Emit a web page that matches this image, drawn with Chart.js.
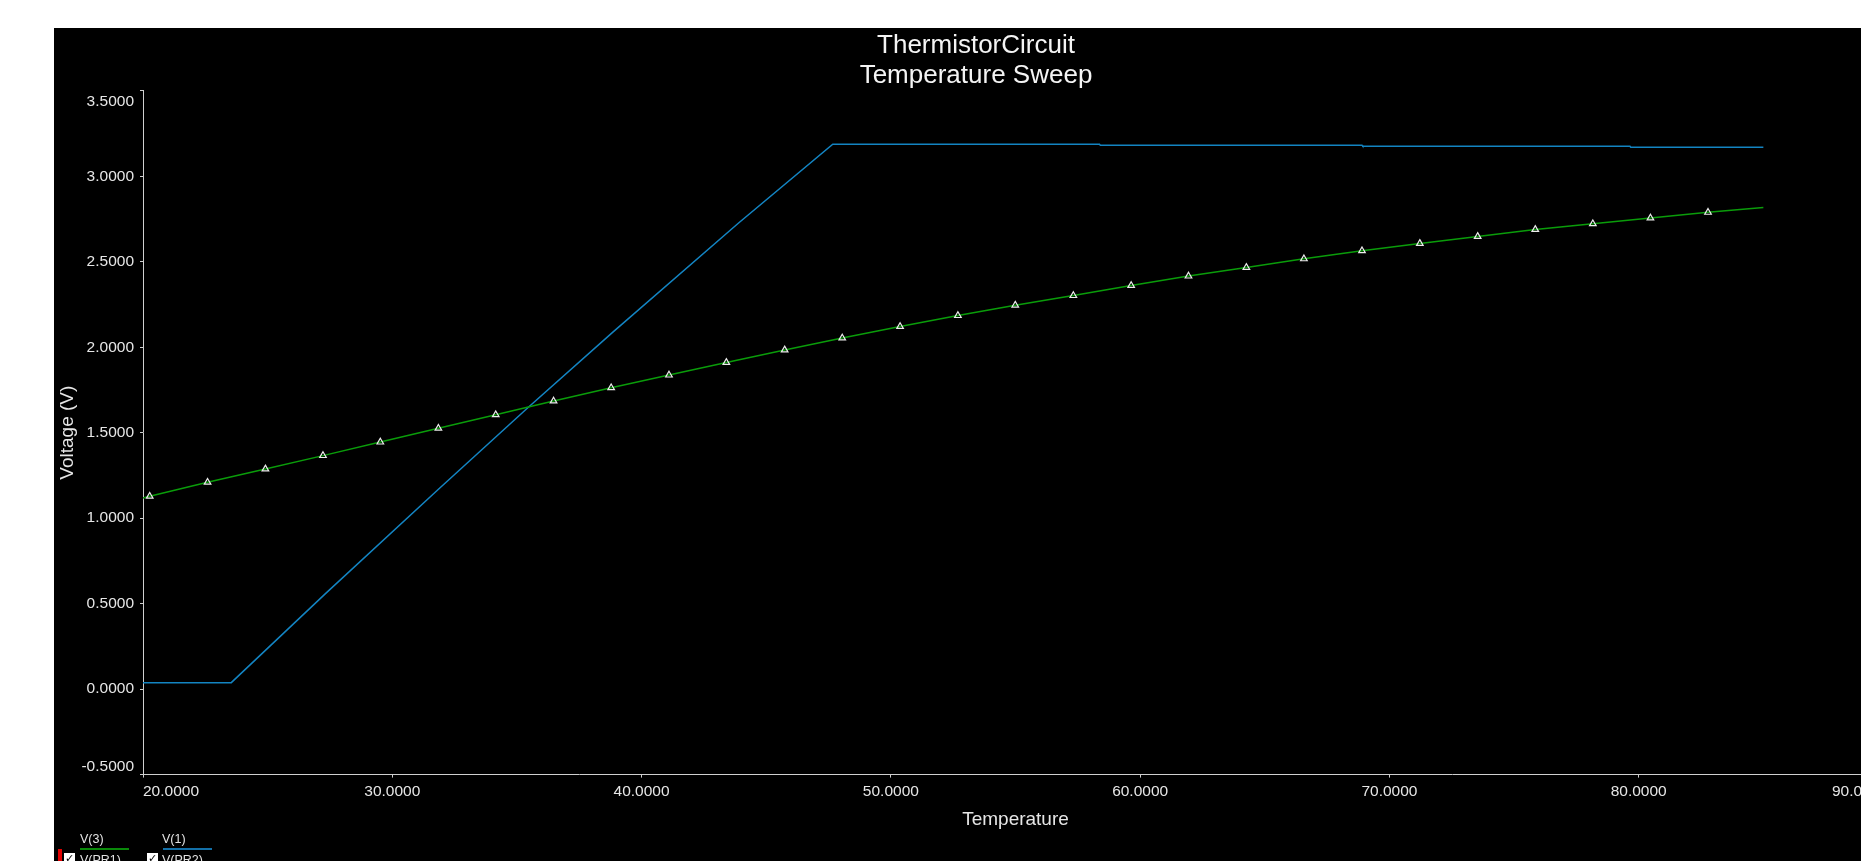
<!DOCTYPE html>
<html>
<head>
<meta charset="utf-8">
<title>ThermistorCircuit - Temperature Sweep</title>
<script src="https://cdn.jsdelivr.net/npm/chart.js@4.4.0/dist/chart.umd.min.js"></script>
<style>
  html, body { margin: 0; padding: 0; background: #fff; overflow: hidden; width: 1861px; height: 861px; }
  #panel { position: absolute; left: 54px; top: 28px; width: 1844px; height: 833px; background: #000; overflow: hidden; }
  #plot { position: absolute; left: 0; top: 0; }
  .lg { position: absolute; font-family: "Liberation Sans", Arial, sans-serif; font-size: 12.5px; line-height: 13px; color: #e2e2e2; white-space: nowrap; }
  .under { position: absolute; height: 2px; }
  .chk { position: absolute; width: 11px; height: 11px; background: #fff; color: #000; font: bold 11px/11px "DejaVu Sans", sans-serif; text-align: center; }
  .mark { position: absolute; background: #e00000; }
</style>
</head>
<body>
<div id="panel">
  <canvas id="plot" width="1844" height="833"></canvas>
  <div class="lg" style="left:26px; top:805px;">V(3)</div>
  <div class="under" style="left:26px; top:820px; width:49px; background:#0a8a0a;"></div>
  <div class="lg" style="left:108px; top:805px;">V(1)</div>
  <div class="under" style="left:109px; top:820px; width:49px; background:#1370a8;"></div>
  <div class="mark" style="left:4px; top:821px; width:4px; height:12px;"></div>
  <div class="chk" style="left:10px; top:825px;">✓</div>
  <div class="lg" style="left:26px; top:826px;">V(PR1)</div>
  <div class="chk" style="left:93px; top:825px;">✓</div>
  <div class="lg" style="left:108px; top:826px;">V(PR2)</div>
</div>
<script>
// chart text
const titleLines = ["ThermistorCircuit", "Temperature Sweep"];
const xTitle = "Temperature";
const yTitle = "Voltage (V)";

// tick values
const xTickValues = [20, 30, 40, 50, 60, 70, 80, 90];
const yTickValues = [-0.5, 0, 0.5, 1.0, 1.5, 2.0, 2.5, 3.0, 3.5];

// V(3) - green trace with triangle markers
const tempV3 = [20.00, 20.27, 22.59, 24.91, 27.22, 29.52, 31.85, 34.15, 36.47, 38.78,
  41.10, 43.40, 45.74, 48.05, 50.37, 52.69, 54.99, 57.32, 59.64, 61.94,
  64.26, 66.57, 68.90, 71.22, 73.54, 75.85, 78.16, 80.47, 82.78, 85.00];
const v3 = [1.118, 1.128, 1.210, 1.288, 1.366, 1.445, 1.526, 1.605, 1.685, 1.763,
  1.837, 1.911, 1.984, 2.054, 2.121, 2.185, 2.246, 2.302, 2.361, 2.416,
  2.467, 2.517, 2.564, 2.607, 2.648, 2.689, 2.722, 2.756, 2.789, 2.818];

// V(1) - blue trace
const tempV1 = [20.00, 23.54, 27.33, 31.83, 35.47, 38.86, 43.88, 47.67,
  58.37, 58.40, 68.90, 68.93, 79.65, 79.68, 85.00];
const v1 = [0.038, 0.038, 0.560, 1.166, 1.650, 2.090, 2.725, 3.188,
  3.188, 3.182, 3.182, 3.176, 3.176, 3.170, 3.170];

const fontFamily = '"Liberation Sans", Arial, sans-serif';
const textColor = "#e6e6e6";
const axisColor = "#cfcfcf";

function toPoints(xs, ys) {
  return xs.map((x, i) => ({ x: x, y: ys[i] }));
}

// first and last y labels sit inside the axis, like the x labels
const innerYLabels = {
  id: "innerYLabels",
  beforeDraw(chart) {
    const items = chart.scales.y.getLabelItems();
    if (!items.length) return;
    items[0].options.textBaseline = "bottom";
    const top = items[items.length - 1];
    top.options.textBaseline = "top";
    top.textOffset = 3;
  }
};

const ctx = document.getElementById("plot").getContext("2d");

new Chart(ctx, {
  type: "line",
  data: {
    datasets: [
      {
        label: "V(3)",
        data: toPoints(tempV3, v3),
        borderColor: "#0a9c0a",
        borderWidth: 1.5,
        tension: 0,
        pointStyle: "triangle",
        pointRadius: (c) => (c.dataIndex === 0 || c.dataIndex === tempV3.length - 1 ? 0 : 3.8),
        pointBorderColor: "#ececec",
        pointBackgroundColor: "rgba(0,0,0,0)",
        pointBorderWidth: 1.2,
      },
      {
        label: "V(1)",
        data: toPoints(tempV1, v1),
        borderColor: "#1384c2",
        borderWidth: 1.5,
        tension: 0,
        pointRadius: 0,
      },
    ],
  },
  options: {
    responsive: false,
    animation: false,
    events: [],
    layout: { padding: { left: 10, right: 10, top: 0, bottom: 30 } },
    plugins: {
      legend: { display: false },
      tooltip: { enabled: false },
      title: {
        display: true,
        text: titleLines,
        color: "#f4f4f4",
        font: { family: fontFamily, size: 26, weight: "normal", lineHeight: 1.15 },
        padding: { top: 3, bottom: 0 },
      },
    },
    scales: {
      x: {
        type: "linear",
        min: 20,
        max: 90,
        afterBuildTicks: (s) => { s.ticks = xTickValues.map((v) => ({ value: v })); },
        ticks: {
          align: "inner",
          color: textColor,
          font: { family: fontFamily, size: 15.5 },
          padding: 5,
          maxRotation: 0,
          autoSkip: false,
          callback: (v) => Number(v).toFixed(4),
        },
        grid: { drawOnChartArea: false, drawTicks: true, tickLength: 3, color: axisColor },
        border: { color: axisColor, width: 1 },
        title: {
          display: true,
          text: xTitle,
          color: textColor,
          font: { family: fontFamily, size: 19 },
          padding: { top: 2, bottom: 0 },
        },
      },
      y: {
        type: "linear",
        min: -0.5,
        max: 3.5,
        afterBuildTicks: (s) => { s.ticks = yTickValues.map((v) => ({ value: v })); },
        afterFit: (s) => { s.width = 79; },
        ticks: {
          color: textColor,
          font: { family: fontFamily, size: 15.5 },
          padding: 6,
          autoSkip: false,
          callback: (v) => Number(v).toFixed(4),
        },
        grid: { drawOnChartArea: false, drawTicks: true, tickLength: 3, color: axisColor },
        border: { color: axisColor, width: 1 },
        title: {
          display: true,
          text: yTitle,
          color: textColor,
          font: { family: fontFamily, size: 19 },
          padding: { top: -8, bottom: 2 },
        },
      },
    },
  },
  plugins: [innerYLabels],
});
</script>
</body>
</html>
